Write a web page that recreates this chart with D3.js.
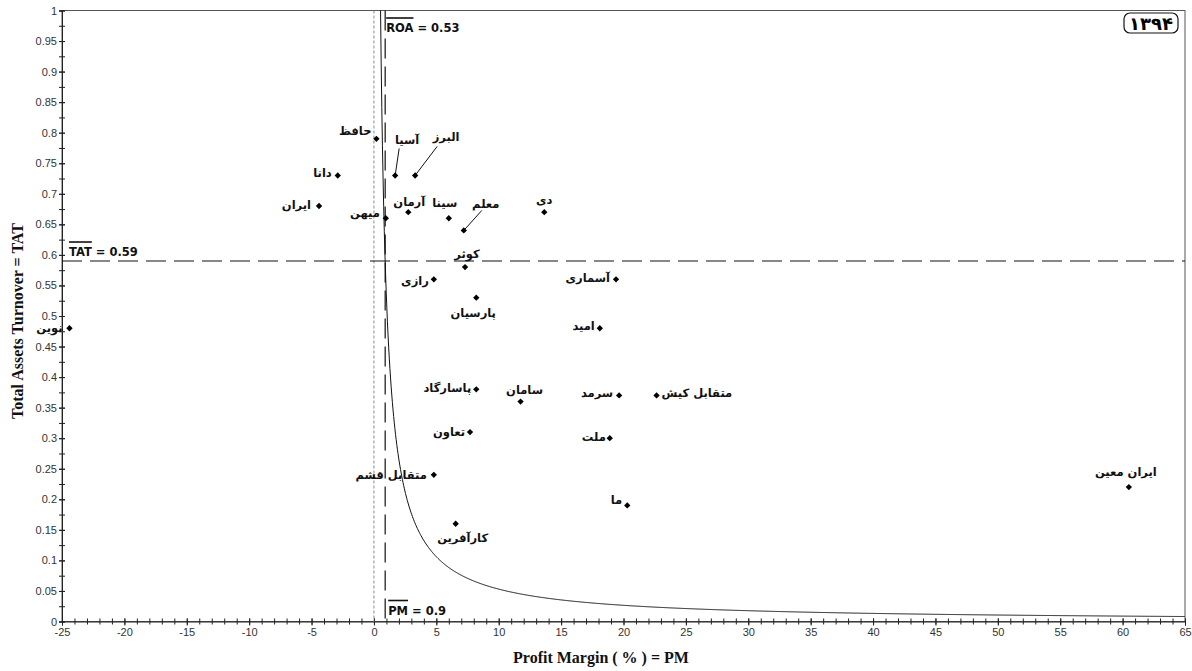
<!DOCTYPE html>
<html>
<head>
<meta charset="utf-8">
<script src="https://cdn.jsdelivr.net/npm/d3@7/dist/d3.min.js"></script>
<style>
  body { margin: 0; background: #fff; }
</style>
</head>
<body>
<svg id="chart" width="1192" height="671"></svg>
<script>
// ---- data ----
const companies = ['نوین', 'ایران', 'دانا', 'حافظ', 'آسیا', 'البرز', 'میهن', 'آرمان', 'سینا', 'معلم',
  'دی', 'کوثر', 'رازی', 'پارسیان', 'آسماری', 'امید', 'پاسارگاد', 'سامان', 'سرمد', 'متقابل کیش',
  'تعاون', 'ملت', 'متقابل قشم', 'کارآفرین', 'ما', 'ایران معین']
const profitMargin = [-24.4, -4.4, -2.9, 0.2, 1.7, 3.3, 0.95, 2.75, 6.0, 7.2,
  13.65, 7.3, 4.8, 8.2, 19.4, 18.1, 8.2, 11.75, 19.65, 22.65,
  7.7, 18.9, 4.8, 6.55, 20.3, 60.5]
const assetTurnover = [0.48, 0.68, 0.73, 0.79, 0.73, 0.73, 0.66, 0.67, 0.66, 0.64,
  0.67, 0.58, 0.56, 0.53, 0.56, 0.48, 0.38, 0.36, 0.37, 0.37,
  0.31, 0.30, 0.24, 0.16, 0.19, 0.22]

const xMajorTicks = d3.range(-25, 66, 5)
const yMajorTicks = d3.range(0, 21).map(i => i / 20)
const avgPM = 0.9
const avgTAT = 0.59
const avgROA = 0.53
const yearLabel = '۱۳۹۴'
const xTitle = 'Profit Margin ( % ) = PM'
const yTitle = 'Total Assets Turnover = TAT'

// label placement: [anchor, dx, dy of text centre]
const labelLayout = {
  'نوین': ['end', -7, 0], 'ایران': ['end', -8, -1], 'دانا': ['end', -6, -2], 'حافظ': ['end', -5, -8],
  'آسیا': ['middle', 12, -35], 'البرز': ['middle', 31, -38], 'میهن': ['end', -6, -5],
  'آرمان': ['middle', 1, -10], 'سینا': ['middle', -4, -15], 'معلم': ['middle', 22, -26],
  'دی': ['middle', 0, -12], 'کوثر': ['middle', 2, -13], 'رازی': ['end', -5, 2],
  'پارسیان': ['middle', -3, 15], 'آسماری': ['end', -6, -1], 'امید': ['end', -5, -2],
  'پاسارگاد': ['end', -5, -1], 'سامان': ['middle', 4, -12], 'سرمد': ['end', -6, -2],
  'متقابل کیش': ['start', 5, -2], 'تعاون': ['end', -5, 0], 'ملت': ['end', -4, -1],
  'متقابل قشم': ['end', -7, 0], 'کارآفرین': ['middle', 7, 14], 'ما': ['end', -5, -5],
  'ایران معین': ['middle', -3, -15]
}
// leader lines: end point offset from the marker
const leaders = { 'آسیا': [4, -27], 'البرز': [22, -29], 'معلم': [18, -20] }

// ---- layout ----
const width = 1192, height = 671
const margin = { top: 10.5, right: 7, bottom: 49.5, left: 62 }
const innerW = width - margin.left - margin.right
const innerH = height - margin.top - margin.bottom

const svg = d3.select('#chart')
const g = svg.append('g').attr('transform', `translate(${margin.left},${margin.top})`)

const x = d3.scaleLinear().domain([-25, 65]).range([0, innerW])
const y = d3.scaleLinear().domain([0, 1]).range([innerH, 0])

// frame
g.append('rect')
  .attr('width', innerW).attr('height', innerH)
  .attr('fill', 'none').attr('stroke', '#555').attr('stroke-width', 1)

// axes
const tickFont = '"Liberation Sans", Arial, sans-serif'
const xAxisMinor = g.append('g').attr('transform', `translate(0,${innerH})`)
  .call(d3.axisBottom(x).tickValues(d3.range(-25, 66, 1)).tickSize(3).tickFormat(''))
xAxisMinor.selectAll('.tick line').attr('y1', -3).attr('stroke', '#222')
const xAxis = g.append('g').attr('transform', `translate(0,${innerH})`)
  .call(d3.axisBottom(x).tickValues(xMajorTicks).tickSize(4).tickPadding(3).tickFormat(d => String(d)))
xAxis.selectAll('.tick line').attr('y1', -3).attr('stroke', '#222')
xAxis.select('.domain').attr('stroke', '#222')

const yAxisMinor = g.append('g')
  .call(d3.axisLeft(y).tickValues(d3.range(0, 41).map(i => i / 40)).tickSize(3).tickFormat(''))
yAxisMinor.selectAll('.tick line').attr('x1', 3).attr('stroke', '#222')
const yAxis = g.append('g')
  .call(d3.axisLeft(y).tickValues(yMajorTicks).tickSize(3).tickPadding(2).tickFormat(d => String(+d.toFixed(3))))
yAxis.selectAll('.tick line').attr('x1', 3).attr('stroke', '#222')
yAxis.select('.domain').attr('stroke', '#222')
xAxisMinor.select('.domain').remove()
yAxisMinor.select('.domain').remove()

g.selectAll('.tick text')
  .attr('font-family', tickFont).attr('font-size', 11).attr('fill', '#333')

// reference lines
g.append('line')
  .attr('x1', x(0)).attr('x2', x(0)).attr('y1', 0).attr('y2', innerH)
  .attr('stroke', '#888').attr('stroke-width', 1).attr('stroke-dasharray', '3,2')
g.append('line')
  .attr('x1', x(avgPM)).attr('x2', x(avgPM)).attr('y1', 0).attr('y2', innerH)
  .attr('stroke', '#111').attr('stroke-width', 1.2).attr('stroke-dasharray', '20,8')
g.append('line')
  .attr('x1', 0).attr('x2', innerW).attr('y1', y(avgTAT)).attr('y2', y(avgTAT))
  .attr('stroke', '#111').attr('stroke-width', 1.2).attr('stroke-dasharray', '20,8')

// iso-ROA curve: TAT = ROA / PM
const curvePM = d3.range(avgROA, 65.01, 0.05)
g.append('path')
  .datum(curvePM)
  .attr('fill', 'none').attr('stroke', '#111').attr('stroke-width', 1)
  .attr('d', d3.line().x(d => x(d)).y(d => y(avgROA / d)))

// overlined reference labels
const refFont = '"DejaVu Sans", "Liberation Sans", sans-serif'
function refLabel(px, py, name, value) {
  const t = g.append('text')
    .attr('x', px).attr('y', py)
    .attr('font-family', refFont).attr('font-weight', 'bold').attr('font-size', 11.5)
    .attr('fill', '#111')
    .text(`${name} = ${value}`)
  const w = t.node().getSubStringLength(0, name.length)
  g.append('line')
    .attr('x1', px).attr('x2', px + w).attr('y1', py - 14).attr('y2', py - 14)
    .attr('stroke', '#111').attr('stroke-width', 1.6)
}
refLabel(x(-25) + 7, y(avgTAT) - 5, 'TAT', avgTAT)
refLabel(x(avgPM) + 1, 21.5, 'ROA', avgROA)
refLabel(x(avgPM) + 3, innerH - 7, 'PM', avgPM)

// points
const points = companies.map((name, i) => ({ name, pm: profitMargin[i], tat: assetTurnover[i] }))

g.selectAll('.leader')
  .data(points.filter(d => leaders[d.name]))
  .join('line')
  .attr('class', 'leader')
  .attr('x1', d => x(d.pm)).attr('y1', d => y(d.tat))
  .attr('x2', d => x(d.pm) + leaders[d.name][0])
  .attr('y2', d => y(d.tat) + leaders[d.name][1])
  .attr('stroke', '#111').attr('stroke-width', 1)

g.selectAll('.pt')
  .data(points)
  .join('path')
  .attr('class', 'pt')
  .attr('transform', d => `translate(${x(d.pm)},${y(d.tat)}) rotate(45)`)
  .attr('d', d3.symbol(d3.symbolSquare, 20))
  .attr('fill', '#000')

g.selectAll('.lbl')
  .data(points)
  .join('text')
  .attr('class', 'lbl')
  .attr('x', d => x(d.pm) + labelLayout[d.name][1])
  .attr('y', d => y(d.tat) + labelLayout[d.name][2] + 4)
  .attr('text-anchor', d => labelLayout[d.name][0])
  .attr('font-family', refFont).attr('font-weight', 'bold').attr('font-size', 11.5)
  .attr('fill', '#111')
  .text(d => d.name)

// year badge
const badge = g.append('g').attr('transform', `translate(${innerW - 61},${2.5})`)
badge.append('rect')
  .attr('width', 54).attr('height', 20).attr('rx', 6)
  .attr('fill', '#fff').attr('stroke', '#111').attr('stroke-width', 1.2)
badge.append('text')
  .attr('x', 27).attr('y', 16.5).attr('text-anchor', 'middle')
  .attr('font-family', refFont).attr('font-weight', 'bold').attr('font-size', 18)
  .attr('fill', '#000')
  .text(yearLabel)

// axis titles
const titleFont = '"Liberation Serif", "Times New Roman", serif'
svg.append('text')
  .attr('x', 601).attr('y', 663).attr('text-anchor', 'middle')
  .attr('font-family', titleFont).attr('font-weight', 'bold').attr('font-size', 16)
  .attr('fill', '#111')
  .text(xTitle)
svg.append('text')
  .attr('transform', 'translate(23,321) rotate(-90)')
  .attr('text-anchor', 'middle')
  .attr('font-family', titleFont).attr('font-weight', 'bold').attr('font-size', 16)
  .attr('fill', '#111')
  .text(yTitle)
</script>
</body>
</html>
